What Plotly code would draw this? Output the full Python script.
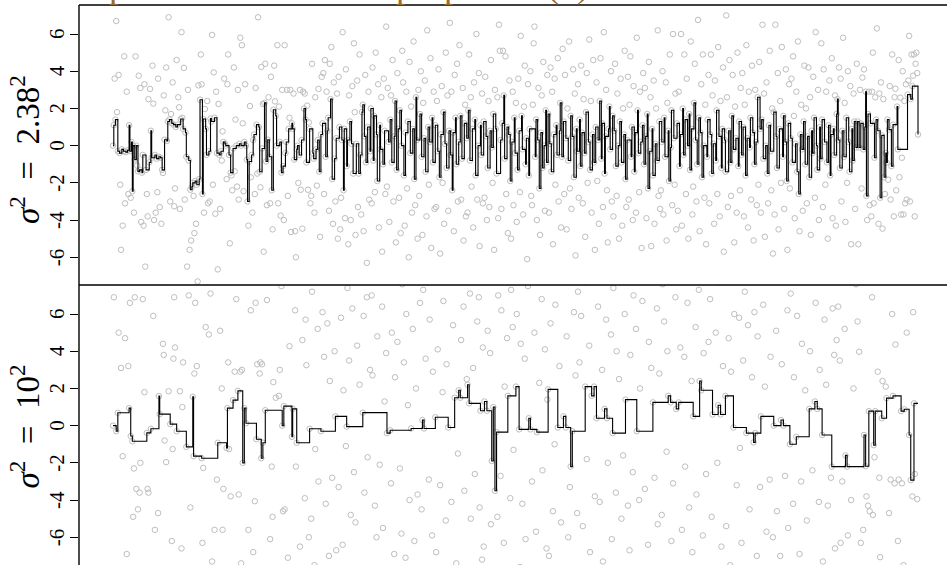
import plotly.graph_objects as go

# ---------------- data ----------------
n_iter = 1000
iterations = list(range(1, n_iter + 1))
chain_start = 0.0

# Upper panel (sigma^2 = 2.38^2): proposal drawn at every iteration (20 per row)
proposals_a = [
    0.0, 1.1, 3.6, 1.4, 6.7, 1.8, -0.3, 3.8, -0.4, -2.1, -5.6, -0.2, -4.3, -0.3, 4.8, -3.1, -0.35, 2.9, -0.25, -2.6,
    1.1, -0.3, -2.8, 0.2, -2.45, 0.0, -3.6, -0.75, 4.8, 0.0, -1.07, -1.38, 3.76, -1.3, 3.1, -4.1, -1.45, -0.5, -4.3, 3.3,
    -6.5, -1.3, -2.6, -3.8, 2.5, -0.9, 3.05, 0.8, -0.65, 4.3, 2.26, -4.0, -0.5, -3.6, -0.7, -2.5, 3.6, -0.6, -3.3, -0.65,
    -4.2, -1.3, -1.47, 2.7, 0.32, 1.9, 4.2, 0.25, 1.3, 6.9, 1.4, -3.0, 1.7, 1.2, 3.4, 1.13, -3.26, -2.3, 1.0, 4.6,
    1.13, 2.6, 2.06, -3.4, 1.43, 6.1, 1.5, 0.9, 4.18, -2.9, 0.7, -0.6, -6.5, 3.0, -0.8, -5.6, -2.37, -5.1, -2.2, -2.0,
    -2.7, -4.7, -1.9, -4.2, -2.1, -7.3, 3.24, -1.8, 2.47, 4.9, 3.3, -2.6, 1.43, -3.6, 1.97, 0.9, -0.5, 2.4, -3.1, -0.3,
    -3.0, 1.45, 1.3, 5.95, -2.1, 3.94, 1.5, -3.66, 2.9, -0.4, -6.65, 2.24, -0.5, -3.4, -0.3, -0.8, 0.77, 0.2, 3.6, 0.1,
    0.0, -1.8, 3.3, 4.9, -0.5, -5.25, -1.45, -1.6, -2.4, -0.15, 4.2, -1.38, 1.4, 0.0, -2.2, 3.0, -2.9, 0.1, 5.8, 0.0,
    5.4, 1.2, -2.45, 0.2, 3.3, 0.0, -0.75, -3.0, -4.3, -0.85, 2.13, -1.7, -0.5, -3.6, 0.3, 0.6, -2.6, 3.1, 1.13, -1.5,
    6.9, 1.0, -1.4, -2.24, 4.23, -0.15, 2.24, -5.7, 2.3, 4.4, -0.85, -3.2, 0.32, 2.6, -0.6, -3.1, 3.7, -2.4, -4.5, 1.93,
    4.3, 2.38, 1.6, 0.0, 5.4, -3.1, 2.1, 0.2, -3.76, -1.45, 3.0, -1.1, -4.0, 5.4, -0.4, 0.2, 3.0, -2.7, 0.9, 1.5,
    3.0, -4.64, 1.2, 0.9, 2.8, -0.75, -4.6, -6.0, -0.2, 0.0, -2.0, -0.5, 3.0, -2.37, 0.3, -4.46, 2.9, 2.0, 2.8, 1.4,
    -0.9, 2.15, -2.37, 1.25, 0.9, -3.1, -2.7, 4.4, -0.4, -0.7, -3.6, 2.6, -0.2, -2.15, 0.3, 3.05, -1.4, -4.9, 0.6, 3.7,
    1.2, 3.9, -2.6, 4.6, -0.6, 2.9, 0.8, 1.5, -3.5, 4.4, 2.5, 5.3, -1.8, -4.2, 3.4, -0.7, -3.0, 0.4, 2.8, -5.0,
    3.7, 1.0, -4.5, -2.8, 0.3, 6.1, -2.4, 0.9, -3.9, 4.1, -1.1, 0.3, -5.3, 2.7, 1.3, -4.0, 0.1, 3.2, -1.5, 5.5,
    1.8, -4.8, 0.1, 3.5, -3.3, -1.5, 4.9, -0.5, -3.7, 1.8, 2.2, -4.6, 0.5, 3.8, -0.9, -6.3, 1.0, 2.9, -2.9, -0.3,
    2.0, -3.1, 4.2, -0.8, 1.6, -2.5, 5.0, 0.6, -1.9, 3.3, -4.4, 1.1, -0.2, 2.6, -5.7, -1.0, 3.6, 0.8, -2.6, 6.4,
    -2.2, 3.1, 0.2, -4.1, 1.4, 2.7, -0.9, 4.6, -3.0, 0.5, 2.4, -5.2, -1.3, 3.9, 0.9, -2.8, 1.9, -4.7, 0.0, 5.1,
    3.4, -1.6, -4.3, 0.7, 2.9, -2.3, 1.3, -6.0, 4.5, -0.4, 2.1, -3.6, 0.9, 5.6, -1.8, -3.2, 2.6, 0.3, -5.0, 3.0,
    -2.7, 1.7, 4.0, -0.6, -4.8, 2.3, 0.4, 3.5, -1.4, -3.8, 6.2, 1.0, -2.1, 0.2, 4.7, -5.5, 1.5, -0.9, 2.9, -3.4,
    1.1, -3.3, 2.4, -0.3, 4.1, -1.7, -5.8, 0.6, 3.2, -2.0, 1.8, -4.2, 0.1, 5.0, -1.2, 2.7, -3.5, 0.8, 6.6, -0.5,
    2.9, -2.4, 0.7, -4.6, 3.8, 1.5, -1.0, 4.4, -3.0, 0.2, 5.4, 1.6, -2.9, -0.7, 3.1, -5.1, 1.2, 2.2, -3.8, 0.4,
    -3.6, 1.9, 4.9, -0.8, 2.6, -2.2, 0.9, -4.4, 3.4, 1.4, -1.6, 6.0, -2.9, 0.0, 3.9, -5.4, 1.1, -0.5, 2.8, -3.1,
    1.3, -2.8, 3.7, 0.5, -4.0, -1.2, 2.4, -3.3, 0.8, 4.6, -0.1, -2.0, 1.7, -5.6, 3.0, 0.9, -1.5, 2.6, -3.9, 6.5,
    5.1, 0.3, -3.4, 1.2, 5.1, 2.7, -0.7, 4.8, -2.6, 1.0, -4.7, 0.6, 3.5, -1.9, -5.0, 0.2, 2.9, -3.2, 1.5, -0.4,
    2.3, -4.1, -1.3, 3.6, 0.8, -2.5, 5.9, 1.6, -0.2, -3.7, 2.1, 4.3, -1.0, 0.4, -6.1, 3.3, -1.6, 0.9, 4.0, -2.7,
    -3.2, 2.2, 5.5, 6.4, -0.6, 1.4, -4.0, 0.3, 3.1, -2.3, -4.8, 0.7, 2.7, -1.2, 4.5, 0.0, -3.5, 1.9, -0.9, 3.8,
    1.7, -3.6, 0.1, 4.2, -1.4, 2.9, -5.3, 0.6, 3.6, -2.1, 1.1, -0.5, 4.7, -3.0, 0.8, 2.3, -4.4, -0.6, 5.2, 1.3,
    -2.6, 3.8, 0.4, -4.5, 2.0, -0.8, 5.6, -2.3, 1.6, -3.4, 0.5, 4.1, -1.7, 2.8, -5.9, 0.9, -0.3, 3.3, -2.8, 1.4,
    -1.1, 4.3, 0.7, -3.1, 2.5, -0.4, -4.9, 1.8, 3.9, -2.0, 0.2, 5.7, -1.3, 2.4, -3.6, 0.6, 4.6, -0.9, -5.6, 1.0,
    3.4, -1.9, 0.3, -4.2, 2.4, 4.7, -0.7, 1.2, -3.3, 6.1, -1.5, 0.5, 3.0, -2.4, -5.2, 0.9, 2.1, -0.2, 4.0, -3.0,
    1.6, -3.8, 0.8, 4.4, -1.1, -2.7, 2.8, 0.0, -5.0, 1.3, 3.6, -0.9, -4.3, 2.0, 0.6, 5.1, -1.8, -3.3, 0.3, 3.7,
    -2.9, 2.2, 4.8, -0.6, 1.0, -4.0, 3.2, -1.4, 0.7, -3.6, 5.8, 1.9, -0.4, -2.5, 2.9, 0.2, -5.5, 1.1, 3.9, -1.0,
    3.1, 0.5, -3.9, 1.7, -2.3, 4.5, -0.3, 2.6, -5.4, 0.9, -1.6, 3.5, -4.2, 0.1, 2.0, -0.8, 6.2, -2.7, 1.3, -3.4,
    -2.4, 0.2, 4.0, -3.7, 1.5, -0.6, 3.4, -5.1, 2.3, 0.8, -1.9, 4.9, -0.1, 1.9, -3.2, 6.0, 0.4, -2.1, 2.8, -4.5,
    1.2, -3.5, 2.9, -1.1, 0.6, 6.0, -4.3, 2.0, -0.5, 4.9, 1.4, -2.6, 3.6, 0.0, -5.0, 1.7, -1.3, 5.6, 0.9, -3.7,
    -2.2, 2.3, 4.4, 0.3, -3.0, -1.0, 6.76, 1.5, -4.6, 0.7, 3.3, -1.7, 4.9, 0.0, -2.8, 2.2, -5.3, -0.6, 1.4, 3.8,
    -3.1, 0.6, 4.9, -1.5, 2.7, 0.1, -4.2, 3.5, -0.8, 1.9, -2.6, 5.3, 0.5, -3.8, 2.4, -1.2, 0.9, 4.2, -5.7, 0.3,
    -1.4, 7.0, 2.6, -3.3, 0.8, 4.6, -0.9, -2.7, 1.6, 3.8, -0.2, -5.2, 2.1, 0.4, -3.6, 5.0, -1.1, 1.3, -2.4, 3.1,
    -0.5, 3.9, 1.0, -3.8, 2.2, -1.6, 5.4, 0.4, -4.4, 2.9, -0.1, 1.5, -2.9, 4.3, 0.7, -5.1, -1.0, 3.0, 0.2, -3.2,
    2.6, -2.1, 4.5, 0.9, -3.6, 1.4, 6.5, -0.7, 2.8, -4.9, 0.0, 3.4, -1.5, -3.1, 1.1, 5.1, -0.3, -2.4, 2.0, -5.8,
    1.8, -3.7, 6.5, 0.5, -1.2, 3.9, -4.5, 0.9, 2.4, -2.0, 5.3, -0.6, 1.6, -3.4, 0.2, 4.1, -1.9, -5.6, 1.2, 3.3,
    -2.3, 0.4, 3.6, -0.9, 4.8, 1.6, -3.9, 0.1, 2.9, -1.4, 5.6, -2.6, -4.6, 0.6, 2.2, -0.2, -3.5, 1.3, 4.3, -1.0,
    2.0, -3.1, 0.5, 4.2, -1.7, 2.6, -4.8, 0.8, -0.4, 3.7, 1.5, -2.8, 6.1, 0.0, -1.3, 3.0, -4.0, 1.0, -0.7, 5.5,
    1.4, -3.3, 4.1, 0.2, -2.1, 2.9, -0.9, -5.0, 1.1, 3.5, -1.6, 0.6, 4.7, -3.9, 0.9, -0.5, 2.7, -4.3, 1.7, 2.5,
    0.3, 4.2, -1.2, 3.6, -3.0, 0.8, 5.8, -0.6, 2.3, -4.1, 1.5, -2.0, 4.0, 0.2, -1.4, 3.2, -5.3, 0.9, -0.8, 2.8,
    1.3, -3.4, -0.1, 4.4, 1.3, -5.3, -0.1, 3.0, 1.2, -2.3, 3.66, -0.2, 4.1, 1.0, 2.9, -2.7, -4.0, 1.7, 2.9, -3.2,
    1.2, -3.8, 2.9, 5.0, -3.1, -0.65, 2.6, 1.4, 6.3, 0.8, -4.2, 2.8, -2.8, 3.4, 0.55, -4.46, 2.5, -1.7, -2.6, -0.4,
    -0.9, 1.4, -1.83, 0.86, 3.2, -2.9, -1.1, 4.9, 1.13, -3.8, 2.6, 3.06, -2.4, 2.1, -0.2, 4.6, -1.7, 2.58, -3.7, -0.65,
    4.0, -3.7, 2.4, -3.1, 3.3, -2.9, 2.74, 3.5, 5.9, -3.0, 2.5, 4.9, 3.2, 3.76, 4.9, -3.8, 4.4, 5.0, 3.9, 0.6,
]
# 1 = proposal accepted at that iteration, 0 = rejected (20 iterations per string)
accepted_a = [
    "11010010100101001010", "11011101010101001100", "01000101100010100101", "01001001101001010010",
    "10001001001100101011", "00101001100110011001", "01100010010010100101", "10001010010001000101",
    "00010111010010110010", "01100100101010100101", "00110001010100110010", "00110100110100100101",
    "10001000110010101010", "10001011001010010100", "01001011001100101010", "00100101011010101001",
    "10011001100110010100", "00101010011010101010", "01010010010010101100", "01010010100101001100",
    "10010101001010100101", "01100110010101001001", "01010010011001001100", "10010100101010011000",
    "01010110010101010011", "00101001100011001100", "00001101010101010110", "10101001001100110101",
    "00100100101010011001", "10100101001010010101", "00101011001100011100", "10101001010100101010",
    "00011001100110010101", "01011010011001010010", "01001100011011001000", "10011001101001011010",
    "01010101010101000110", "01010100110010011001", "10001010101001001100", "10100101001100101010",
    "10010101001010101000", "10011001000110101010", "01010001010101010101", "00101001101001100110",
    "10010010101100110011", "10100101001001100110", "10101010100101110100", "10000101010010100101",
    "11010010100001100000", "00000010001010000001",
]

# Lower panel (sigma^2 = 10^2)
proposals_b = [
    0.0, 6.9, -9.4, 13.1, -0.3, -11.7, 0.69, 5.0, -15.3, 8.8, 3.1, -12.6, -1.64, 10.4, -8.1, 4.7, 17.2, -6.9, 9.6, 3.2,
    0.94, 6.6, -0.56, -10.2, -0.84, -4.9, -2.3, 6.9, 12.5, -3.4, 14.7, -4.5, -9.1, -3.6, -2.0, 11.3, -18.4, 6.8, 7.9, 1.8,
    9.2, -13.5, -0.39, -3.4, -3.6, 15.8, -8.7, -0.17, 10.6, -12.1, 5.9, -16.9, -5.6, 8.3, -10.8, 19.4, -4.7, 1.59, 0.62, 12.0,
    -9.9, 14.2, 4.4, 3.8, -0.8, 11.1, -1.96, -13.0, 7.7, 1.85, -17.5, 0.08, 9.0, -6.2, -1.26, 3.6, 6.9, 4.2, -10.5, -0.3,
    16.3, -8.4, 12.7, 1.85, -14.1, -6.6, 1.0, 3.4, -11.9, 9.4, 18.8, -1.14, -9.0, 13.9, 7.0, -15.7, -4.4, 10.1, -7.8, 1.55,
    -1.64, 2.8, 6.6, -12.3, 3.2, 11.5, -17.8, 8.2, -9.7, 14.8, -1.75, -6.3, -2.27, 10.0, -13.6, 5.3, -19.9, 12.9, -8.8, 4.9,
    -11.4, 7.1, 15.6, -7.3, 9.8, -14.9, -5.6, 12.2, -10.0, -2.9, -0.92, 16.7, -8.6, 5.1, -12.8, 2.0, -5.6, -3.4, 10.9, -16.2,
    8.3, -1.2, 0.94, 3.4, -1.26, 13.4, -3.8, -9.5, 11.6, 1.37, -13.2, 2.9, 17.5, 6.8, -10.3, 1.87, -3.7, 9.1, 2.9, -7.4,
    3.0, -2.0, -15.1, 0.94, 12.6, 0.13, -9.2, 8.7, -5.6, 14.3, -12.0, 6.2, -18.6, 10.2, -6.8, 15.9, -4.06, 6.6, -0.73, 3.3,
    -11.0, 9.3, 2.8, 3.4, -1.75, 3.3, -0.92, -14.4, 11.8, 0.83, -8.0, 6.75, 13.6, -9.6, 18.1, -6.1, 7.8, -2.2, -4.9, 2.34,
    -12.7, 11.4, 1.5, -8.3, 15.0, 16.9, 1.6, 3.0, -10.9, 7.5, 0.0, -4.6, 1.05, -4.5, 12.3, -15.4, 9.9, -7.1, 14.6, 4.27,
    -9.8, 13.3, -0.6, 0.9, 8.1, -13.7, 6.2, -2.2, -0.92, 17.8, -11.2, 10.5, -6.5, 15.2, -16.0, 4.6, -8.9, 12.0, -3.9, 5.7,
    3.25, -13.9, 9.7, -6.0, -0.17, 14.1, -5.0, 7.2, -10.4, 18.5, -7.5, -1.26, 11.9, -14.6, 5.2, -3.0, 16.4, -9.1, -0.3, 8.4,
    6.1, -12.4, 3.7, 10.8, -4.2, -17.1, 5.5, 13.0, -7.0, 2.4, -9.3, 15.7, -2.8, 7.9, -14.0, 4.0, 0.5, -6.7, 11.2, -19.8,
    -3.3, 9.0, -11.8, 5.8, 16.2, -6.4, 1.9, -15.5, 12.8, -1.1, -0.05, 7.4, -9.9, 3.5, 14.4, -4.8, -13.1, 6.3, 20.7, -2.5,
    10.3, -5.2, -16.6, 4.3, 8.6, -10.1, 2.2, 13.5, -7.7, -19.0, 0.7, 5.9, -3.6, 11.7, -12.2, 6.9, -1.7, 17.4, -8.5, 3.0,
    -14.3, 7.0, 2.7, -9.0, 12.4, -4.3, 15.3, -6.0, 4.8, -11.4, 9.4, -2.1, 18.0, -13.4, 6.4, -5.5, 10.7, 1.3, -16.8, 3.9,
    -0.4, 8.2, -10.6, 13.8, -0.25, -3.1, 5.0, -15.9, 11.0, -6.9, 2.6, 17.0, -8.2, 4.5, -12.5, 9.1, -2.3, 14.9, -5.8, 7.6,
    -17.3, 3.4, 11.5, -7.1, 6.0, -12.9, 1.1, 16.0, -4.0, 8.9, -0.15, -10.2, 5.2, 13.1, -6.2, -18.8, 2.0, 10.2, -3.7, 12.1,
    -9.5, 6.6, 15.0, -4.5, 0.3, 7.3, -0.15, -13.6, 3.6, -7.9, 10.9, 19.1, -2.9, 5.7, -11.1, 14.0, -5.9, 2.9, -16.0, 8.0,
    0.45, -6.8, 12.7, 4.1, -14.7, 9.7, -3.2, 17.7, -9.3, 1.8, 6.7, -11.6, 13.9, -5.1, 3.3, -17.9, -0.1, 7.8, -8.0, 11.3,
    -4.1, 15.5, 5.4, -12.0, 1.5, 8.5, -7.4, 13.3, -1.5, 1.9, -15.2, 1.5, 4.6, -9.6, 18.6, 6.4, -3.5, 10.0, -13.3, 2.5,
    2.2, -10.7, 1.2, 7.1, -5.0, 14.5, -16.4, 3.1, 9.8, -2.6, 12.6, -8.4, 5.6, -19.2, 6.9, -4.4, 0.8, 16.6, -7.2, 4.2,
    -6.5, 1.3, 11.9, -13.1, 0.8, 5.1, -9.0, 15.9, 3.9, -5.3, -1.9, 8.0, 1.0, -11.9, -3.5, 13.6, -0.35, -4.9, 7.0, -15.6,
    10.5, -2.7, 6.2, -14.4, 17.1, -6.3, 2.1, -10.0, 12.2, 4.7, 1.6, -8.6, 14.1, -3.9, 7.3, -17.0, 5.3, -1.3, 9.2, -12.7,
    2.1, 6.0, -11.3, 13.2, -0.2, -7.6, 4.4, 18.2, -4.2, 9.0, -14.1, 3.6, -6.1, 11.6, -19.6, 7.5, 0.4, -9.4, -0.2, 15.4,
    -3.0, 8.8, -12.9, 5.0, 16.3, -5.7, -0.35, 10.6, -8.8, 2.3, 13.7, -15.8, 6.8, -2.4, 9.5, -10.8, 4.1, 19.8, -6.6, 1.4,
    1.95, -7.0, 12.0, 5.5, -13.8, 8.4, -4.6, 15.1, -1.0, 6.5, -17.3, 10.1, -0.1, -8.9, 3.2, 13.4, -5.2, 7.9, -11.8, 0.5,
    11.0, -12.2, -0.1, 4.8, 17.8, -6.0, 9.6, -3.3, -2.2, 14.2, -0.3, -9.8, 6.1, -15.0, 2.7, 12.4, -4.7, 7.2, -18.1, 3.4,
    -8.0, 5.9, 13.0, -5.4, 10.4, -14.9, 2.1, 7.7, -1.8, 16.5, -10.6, 4.3, -6.8, 11.9, 1.6, -16.7, 8.6, 2.1, -3.8, 14.7,
    0.4, -11.0, 6.4, 15.6, -4.1, 9.3, -13.5, 3.0, -7.3, 12.9, 0.9, -18.3, 5.7, 0.4, -2.0, 10.8, -9.2, 17.6, 4.9, -6.1,
    -0.4, 7.4, -15.3, 11.4, -3.6, 4.0, 19.3, -8.1, 2.5, -12.4, 13.8, -5.0, 8.2, -1.6, -16.2, 6.0, 1.4, -10.3, 15.8, -4.3,
    9.7, -6.7, 3.8, -13.9, 12.5, -2.5, 7.0, 17.3, -9.7, 5.2, -0.3, -14.6, 10.3, -4.0, 2.0, 14.4, -7.8, 6.7, -19.5, 11.2,
    -3.4, 8.1, -11.1, 16.9, -6.4, 4.5, 12.1, -15.5, 3.1, -8.7, 1.25, 9.9, -2.8, 13.5, -12.6, 6.3, -5.3, 18.9, 2.8, -9.9,
    14.6, -4.8, 7.6, -16.0, 5.6, -9.1, 11.7, -1.4, 4.0, 1.6, -13.0, 8.8, 1.25, -6.2, 15.2, -3.1, 10.2, -18.6, 6.9, 0.9,
    -7.7, 12.8, 1.25, -11.7, 4.2, 17.0, -5.6, 9.2, -14.0, 3.7, -2.2, 13.9, -8.3, 6.6, 19.6, -4.4, 10.9, -12.1, 2.4, -6.8,
    0.5, 9.6, -13.2, 5.3, -3.7, 14.8, -9.5, 7.3, 2.4, -17.4, 1.9, 11.5, -5.9, 3.9, -10.4, 16.1, -2.6, 8.5, -15.7, 4.5,
    -11.5, 6.8, 13.4, -4.9, 0.6, -8.0, 10.6, -16.9, 5.0, 18.0, -2.0, 1.1, 7.7, -13.7, 0.6, -6.5, 12.3, 3.2, -9.4, 15.9,
    1.6, -5.4, 9.5, -12.0, 4.7, 14.0, -7.5, 2.9, -18.0, 11.1, -0.1, 6.0, -9.0, 16.4, -3.2, 8.9, -14.3, 5.8, -1.2, 12.6,
    -6.3, 10.0, 3.5, -15.1, 7.2, 13.1, -0.4, -10.7, 5.4, 17.5, -4.5, 8.3, -12.8, 2.6, -19.0, -0.9, 6.1, -0.4, 11.8, -7.0,
    4.8, -13.3, 9.0, -3.3, 0.5, 15.4, -8.8, 6.5, -16.5, 2.1, 12.7, -5.7, 7.9, -11.0, 18.4, -2.9, 3.7, -9.3, 14.3, -6.0,
    0.0, 8.6, -14.8, 5.1, -4.6, 11.6, -10.1, 16.8, -7.0, 0.3, 3.3, -17.6, 0.0, 9.8, -2.7, 13.0, -12.7, 6.2, -5.5, 10.3,
    -1.0, 7.1, -9.8, 15.0, -4.2, 2.6, -13.6, 11.3, -0.6, 5.9, -18.2, 8.7, -6.9, 13.7, -3.0, 4.4, -11.4, 17.1, -7.9, 1.9,
    12.0, -5.1, 7.8, -15.9, 0.9, 4.0, -8.5, 14.6, -2.4, 9.3, -12.3, 1.3, 6.6, -17.7, 0.9, 11.0, -4.1, 3.0, -10.2, 16.0,
    -0.5, -7.3, 10.9, 5.7, -13.0, 2.2, 18.5, -4.3, 8.0, -9.7, 13.2, -2.8, -2.2, 6.3, -15.6, 3.8, -6.6, 12.4, 4.6, -11.3,
    6.4, -18.3, 3.5, -6.3, 14.0, -3.0, 9.1, -12.5, 5.2, -1.6, 11.7, -2.2, -5.9, 16.2, -9.0, 7.7, -4.0, 10.5, -14.7, 2.0,
    12.9, -9.1, 7.6, -15.4, 5.6, -11.8, 3.97, 15.8, -6.3, 9.8, -13.9, -5.6, -0.5, 17.6, -2.18, -3.8, -10.3, -4.3, 0.78, -4.6,
    13.5, -8.2, 6.9, -4.8, -1.05, -1.7, 0.78, -16.1, 11.0, 2.9, -12.6, -2.8, -7.07, 18.0, 0.4, 2.4, -10.0, 14.5, -19.1, 2.1,
    1.48, -9.5, 8.1, -4.7, 15.1, -2.9, -13.3, 6.0, 1.6, 12.3, -3.1, 4.36, -17.2, 9.4, -6.2, -2.9, 16.7, -11.4, 0.78, -3.1,
    11.9, -7.5, 0.88, 14.2, -10.9, 5.0, -15.2, 8.8, -0.5, 17.9, -2.93, -12.0, -3.8, 6.1, 1.2, -2.6, -8.1, 13.0, -3.95, -19.5,
]
accepted_b = [
    "10001010000000000000", "10101000000000000000", "00100001000000000110", "00000000000100000001",
    "00000000000100000001", "10000000001000000000", "00000000001000000000", "01100000010000010000",
    "01010100000000000010", "00001010010000000000", "00000000001010000000", "00110000100000000000",
    "00001000000000000010", "00000000000000001000", "00000000001000000000", "00000000001000000000",
    "00000000000000000000", "10001000000000000000", "00000000001000000000", "00001010000000000000",
    "10000000000000001000", "00001000010100000000", "10100000000000001000", "01001000001010101000",
    "00000000001000000000", "10001000000000001010", "00000010000000000000", "10000000000010000001",
    "00100000101000000000", "00000010000000100100", "10000000001001000000", "10000000000000001000",
    "00000000001000000000", "00000000001000000000", "00000000010010000001", "00100000000000000000",
    "10000000101000000000", "00001000000100100000", "10000000001000000000", "00000010000000010100",
    "00001000000000000000", "10000000010010000000", "10000000100000000000", "00001000000100100000",
    "10000000000010000000", "00000000010100000000", "00000000000010100010", "00001010000000100000",
    "10000000100000000010", "00100000101000100000",
]

ytick_vals = [-6, -4, -2, 0, 2, 4, 6]
ytick_text = ["-6", "-4", "-2", "0", "2", "4", "6"]
panel_labels = ["<i>σ</i><sup>2</sup>\u2002=\u20022.38<sup>2</sup>",
                "<i>σ</i><sup>2</sup>\u2002=\u200210<sup>2</sup>"]
title_text = "path of the chain &amp; proposal π(x)"


def chain_from(start, props, flags):
    """Metropolis chain: the state moves to the proposal when it is accepted."""
    flat = "".join(flags)
    assert len(flat) == len(props) == n_iter, (len(flat), len(props))
    out, cur = [], start
    for p, f in zip(props, flat):
        if f == "1":
            cur = p
        out.append(cur)
    return out


chain_a = chain_from(chain_start, proposals_a, accepted_a)
chain_b = chain_from(chain_start, proposals_b, accepted_b)

# ---------------- figure ----------------
SERIF = "Liberation Serif"
GREY = "#BEBEBE"
BROWN = "#9A6A2E"

fig = go.Figure()
panels = [(chain_a, proposals_a, "x", "y"), (chain_b, proposals_b, "x2", "y2")]
for chain, props, xa, ya in panels:
    fig.add_trace(go.Scatter(
        x=iterations, y=props, mode="markers", xaxis=xa, yaxis=ya,
        marker=dict(symbol="circle-open", size=5.5, color=GREY, line=dict(width=1, color=GREY)),
        showlegend=False, hoverinfo="skip"))
    fig.add_trace(go.Scatter(
        x=iterations, y=chain, mode="lines", xaxis=xa, yaxis=ya,
        line=dict(color="black", width=1.1, shape="hv"),
        showlegend=False, hoverinfo="skip"))

xr = [-41.19, 1035.99]
yr = [-7.49, 7.56]
axis_x = dict(range=xr, showgrid=False, zeroline=False, showline=False,
              showticklabels=False, ticks="", fixedrange=True)
axis_y = dict(range=yr, showgrid=False, zeroline=False, showline=False,
              tickvals=ytick_vals, ticks="outside", showticklabels=False,
              ticklen=8, tickwidth=1.3, tickcolor="black")

annotations = []
# rotated tick labels, placed like R's las=0 labels
TICK_X = (57 - 79) / 868
for yref in ("y", "y2"):
    for v, t in zip(ytick_vals, ytick_text):
        annotations.append(dict(
            text=t, xref="paper", yref=yref, x=TICK_X, y=v, xanchor="center",
            yanchor="middle", textangle=-90, showarrow=False,
            font=dict(family=SERIF, size=21, color="black")))
annotations += [
    dict(text=panel_labels[0], xref="paper", yref="paper", x=-0.0622, y=0.741,
         xanchor="center", yanchor="middle", textangle=-90, showarrow=False,
         font=dict(family=SERIF, size=33, color="black")),
    dict(text=panel_labels[1], xref="paper", yref="paper", x=-0.0622, y=0.2473,
         xanchor="center", yanchor="middle", textangle=-90, showarrow=False,
         font=dict(family=SERIF, size=33, color="black")),
    dict(text=title_text, xref="paper", yref="paper", x=(107 - 79) / 868, y=1,
         xanchor="left", yanchor="bottom", showarrow=False, yshift=-2,
         font=dict(family=SERIF, size=36, color=BROWN)),
]

fig.update_layout(
    width=947, height=565,
    margin=dict(l=79, r=0, t=5, b=0),
    paper_bgcolor="white", plot_bgcolor="white",
    xaxis=dict(axis_x, domain=[0, 1], anchor="y"),
    yaxis=dict(axis_y, domain=[0.5, 1], anchor="x"),
    xaxis2=dict(axis_x, domain=[0, 1], anchor="y2"),
    yaxis2=dict(axis_y, domain=[0, 0.5], anchor="x2"),
    shapes=[
        dict(type="line", xref="paper", yref="paper", x0=0, x1=1, y0=1, y1=1,
             line=dict(color="black", width=1.4)),
        dict(type="line", xref="paper", yref="paper", x0=0, x1=1, y0=0.5, y1=0.5,
             line=dict(color="black", width=1.4)),
        dict(type="line", xref="paper", yref="paper", x0=0, x1=0, y0=0, y1=1,
             line=dict(color="black", width=1.4)),
    ],
    annotations=annotations,
)

fig.write_html("out.html", config={"displayModeBar": False})
